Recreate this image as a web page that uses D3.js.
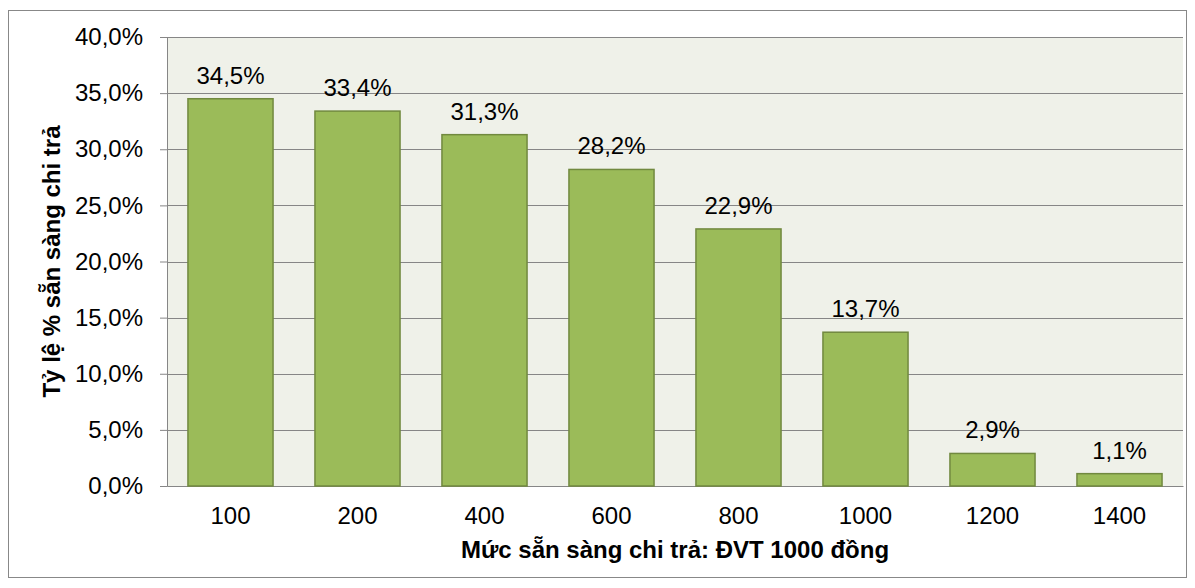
<!DOCTYPE html>
<html>
<head>
<meta charset="utf-8">
<script src="https://cdn.jsdelivr.net/npm/d3@7"></script>
<style>
  body { margin: 0; background: #fff; }
  svg text { font-family: "Liberation Sans", Arial, sans-serif; fill: #000; }
</style>
</head>
<body>
<div id="chart"></div>
<script>
const categories = ["100", "200", "400", "600", "800", "1000", "1200", "1400"];
const values = [34.5, 33.4, 31.3, 28.2, 22.9, 13.7, 2.9, 1.1];
const yTicks = [0, 5, 10, 15, 20, 25, 30, 35, 40];

const width = 1195, height = 588;
const m = { left: 167, right: 12, top: 37, bottom: 102 };
const fmt = v => v.toFixed(1).replace(".", ",") + "%";
const fontSize = 24;

const svg = d3.select("#chart").append("svg")
  .attr("width", width).attr("height", height);

// outer chart frame
svg.append("rect")
  .attr("x", 8.5).attr("y", 10.5).attr("width", 1178).attr("height", 567)
  .attr("fill", "#fff").attr("stroke", "#888").attr("stroke-width", 1);

const x = d3.scaleBand().domain(categories)
  .range([m.left, width - m.right]).paddingInner(0.33).paddingOuter(0.165);
const y = d3.scaleLinear().domain([0, 40]).range([height - m.bottom, m.top]);

svg.append("rect")
  .attr("x", m.left).attr("y", y(40))
  .attr("width", width - m.right - m.left).attr("height", y(0) - y(40))
  .attr("fill", "#eff1e9");

const yAxis = svg.append("g")
  .attr("transform", `translate(${m.left},0)`)
  .call(d3.axisLeft(y).tickValues(yTicks).tickFormat(fmt).tickSize(7).tickPadding(17));
yAxis.select(".domain").attr("stroke", "#868686");
yAxis.selectAll(".tick line").attr("stroke", "#868686");
yAxis.selectAll(".tick text").attr("font-size", fontSize).attr("fill", "#000")
  .style("font-family", "Liberation Sans, Arial, sans-serif");

// horizontal gridlines
svg.append("g").selectAll("line").data(yTicks.slice(1)).join("line")
  .attr("x1", m.left).attr("x2", width - m.right)
  .attr("y1", d => Math.round(y(d)) + 0.5).attr("y2", d => Math.round(y(d)) + 0.5)
  .attr("stroke", "#868686");

const xAxis = svg.append("g")
  .attr("transform", `translate(0,${y(0)})`)
  .call(d3.axisBottom(x).tickSize(0).tickPadding(21));
xAxis.select(".domain").attr("stroke", "#868686");
xAxis.selectAll(".tick text").attr("font-size", fontSize).attr("fill", "#000")
  .style("font-family", "Liberation Sans, Arial, sans-serif");

svg.append("g").selectAll("rect").data(values).join("rect")
  .attr("x", (d, i) => x(categories[i]))
  .attr("y", d => y(d))
  .attr("width", x.bandwidth())
  .attr("height", d => y(0) - y(d))
  .attr("fill", "#9bbb59").attr("stroke", "#71893f").attr("stroke-width", 1.5);

svg.append("g").selectAll("text").data(values).join("text")
  .attr("x", (d, i) => x(categories[i]) + x.bandwidth() / 2)
  .attr("y", d => y(d) - 15)
  .attr("text-anchor", "middle").attr("font-size", fontSize)
  .text(fmt);

svg.append("text")
  .attr("transform", `translate(60,${(y(0) + y(40)) / 2}) rotate(-90)`)
  .attr("text-anchor", "middle").attr("font-size", fontSize).attr("font-weight", "bold")
  .text("Tỷ lệ % sẵn sàng chi trả");

svg.append("text")
  .attr("x", (m.left + width - m.right) / 2).attr("y", 558)
  .attr("text-anchor", "middle").attr("font-size", fontSize).attr("font-weight", "bold")
  .text("Mức sẵn sàng chi trả: ĐVT 1000 đồng");
</script>
</body>
</html>
